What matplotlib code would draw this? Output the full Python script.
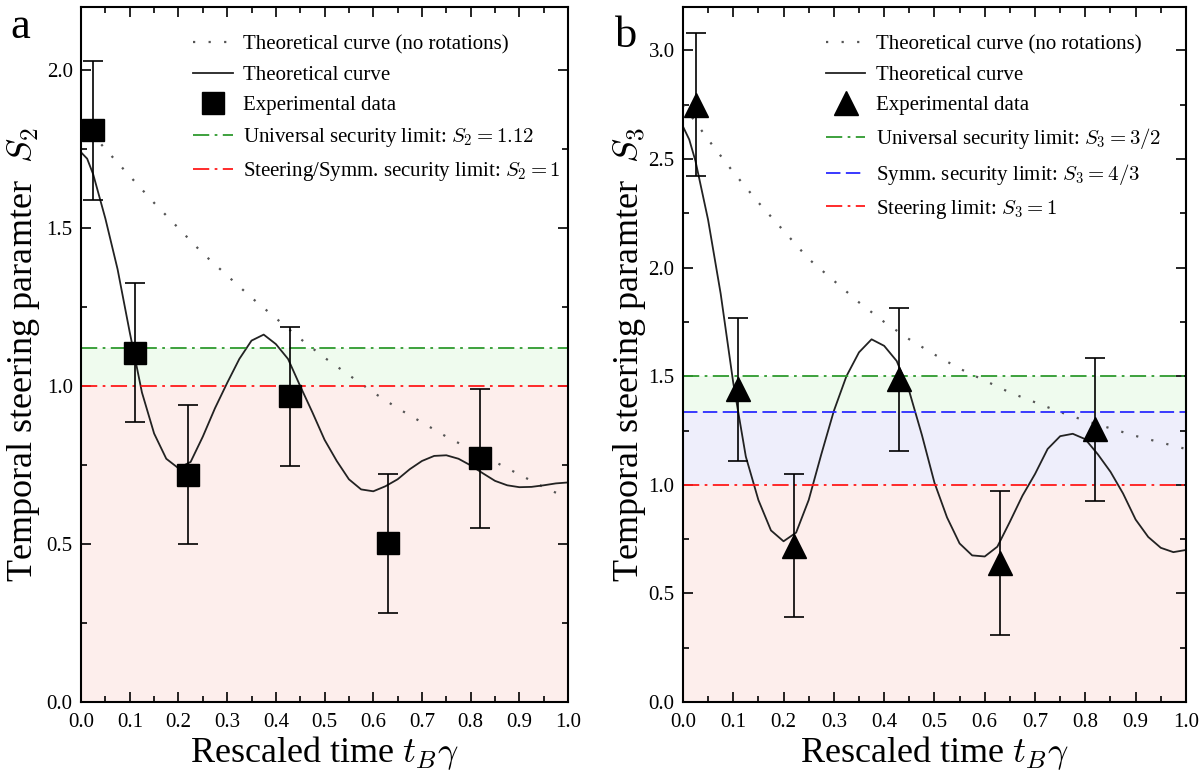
import matplotlib
matplotlib.use('Agg')
import matplotlib.pyplot as plt
from matplotlib.ticker import MultipleLocator

plt.rcParams['font.family'] = ['Liberation Serif', 'DejaVu Serif']
plt.rcParams['mathtext.fontset'] = 'cm'

# experimental points (same time points in both panels)
t_exp = [0.025, 0.11, 0.22, 0.43, 0.63, 0.82]
s2_exp = [1.81, 1.105, 0.72, 0.968, 0.502, 0.771]
s2_err = [0.22, 0.22, 0.22, 0.22, 0.22, 0.22]
s3_exp = [2.75, 1.44, 0.72, 1.485, 0.64, 1.255]
s3_err = [0.33, 0.33, 0.33, 0.33, 0.33, 0.33]

# theoretical curves
t_curve = [0.0, 0.0125, 0.025, 0.05, 0.075, 0.1, 0.125, 0.15, 0.175, 0.2, 0.225, 0.25,
           0.275, 0.3, 0.325, 0.35, 0.375, 0.4, 0.425, 0.45, 0.475, 0.5, 0.525, 0.55,
           0.575, 0.6, 0.625, 0.65, 0.675, 0.7, 0.725, 0.75, 0.775, 0.8, 0.825, 0.85,
           0.875, 0.9, 0.925, 0.95, 0.975, 1.0]
s2_curve = [1.74, 1.72, 1.67, 1.53, 1.37, 1.17, 0.98, 0.85, 0.77, 0.74, 0.76, 0.84,
            0.93, 1.01, 1.086, 1.144, 1.163, 1.133, 1.086, 1.0, 0.917, 0.83, 0.763, 0.705,
            0.673, 0.667, 0.683, 0.705, 0.737, 0.763, 0.779, 0.781, 0.77, 0.749, 0.724, 0.70,
            0.686, 0.68, 0.681, 0.686, 0.692, 0.695]
s3_curve = [2.65, 2.59, 2.49, 2.22, 1.88, 1.47, 1.13, 0.93, 0.79, 0.74, 0.78, 0.93,
            1.14, 1.34, 1.50, 1.61, 1.67, 1.64, 1.57, 1.43, 1.23, 1.01, 0.85, 0.73,
            0.675, 0.67, 0.715, 0.83, 0.95, 1.05, 1.165, 1.224, 1.235, 1.21, 1.14, 1.06,
            0.96, 0.84, 0.76, 0.71, 0.69, 0.70]

t_norot = [0.0, 0.05, 0.1, 0.15, 0.2, 0.25, 0.3, 0.35, 0.4, 0.45, 0.5, 0.55,
           0.6, 0.65, 0.7, 0.75, 0.8, 0.85, 0.9, 0.95, 1.0]
s2_norot = [1.84, 1.75, 1.665, 1.58, 1.50, 1.42, 1.35, 1.28, 1.215, 1.15, 1.09, 1.035,
            0.98, 0.93, 0.885, 0.84, 0.80, 0.76, 0.72, 0.68, 0.645]
s3_norot = [2.75, 2.59, 2.44, 2.30, 2.17, 2.04, 1.94, 1.84, 1.75, 1.67, 1.60, 1.535,
            1.48, 1.425, 1.38, 1.335, 1.295, 1.26, 1.225, 1.195, 1.165]

# limits
s2_univ = 1.12
s3_univ = 1.5
s3_symm = 4 / 3
steer = 1.0

c_green = '#2e9a2e'
c_red = '#ff1a1a'
c_blue = '#2a2aff'
f_green = '#effbee'
f_red = '#fdeeec'
f_blue = '#eeeefb'

fig = plt.figure(figsize=(11.99, 7.8), dpi=100)
ax1 = fig.add_axes([0.0676, 0.1, 0.4062, 0.891])
ax2 = fig.add_axes([0.5696, 0.1, 0.4195, 0.891])


def style_axis(ax, ymax):
    ax.set_xlim(0, 1)
    ax.set_ylim(0, ymax)
    ax.xaxis.set_major_locator(MultipleLocator(0.1))
    ax.xaxis.set_minor_locator(MultipleLocator(0.05))
    ax.yaxis.set_major_locator(MultipleLocator(0.5))
    ax.yaxis.set_minor_locator(MultipleLocator(0.25))
    ax.tick_params(which='both', direction='in', top=True, right=True, width=1.2)
    ax.tick_params(which='major', length=7, labelsize=15)
    ax.tick_params(which='minor', length=4)
    ax.tick_params(axis='x', pad=8)
    ax.tick_params(axis='y', pad=6)
    for sp in ax.spines.values():
        sp.set_linewidth(1.5)
    ax.set_xlabel(r'Rescaled time $t_B\gamma$', fontsize=26)
    ax.xaxis.set_label_coords(0.5, -0.046)


dashdot = (0, (9, 3, 1.5, 3))
leg_kw = dict(loc='upper left', frameon=False, fontsize=15, borderpad=0, borderaxespad=0,
              handlelength=1.9, handletextpad=0.5, labelspacing=0.52)

# ---- panel a ----
ax1.axhspan(0, steer, color=f_red, lw=0, zorder=0)
ax1.axhspan(steer, s2_univ, color=f_green, lw=0, zorder=0)
ax1.plot(t_norot, s2_norot, color='#555555', lw=1.6, linestyle=(0, (1, 6)),
         label='Theoretical curve (no rotations)')
ax1.plot(t_curve, s2_curve, color='#222222', lw=1.3, label='Theoretical curve')
ax1.errorbar(t_exp, s2_exp, yerr=s2_err, fmt='none', ecolor='black', elinewidth=1.2,
             capsize=7.2, capthick=1.2, zorder=4)
ax1.plot(t_exp, s2_exp, 's', color='black', ms=16, lw=0, zorder=5, label='Experimental data')
ax1.axhline(s2_univ, color=c_green, lw=1.3, linestyle=dashdot,
            label=r'Universal security limit: $S_2 = 1.12$')
ax1.axhline(steer, color=c_red, lw=1.3, linestyle=dashdot,
            label=r'Steering/Symm. security limit: $S_2 = 1$')
style_axis(ax1, 2.2)
ax1.set_ylabel(r'Temporal steering paramter  $S_2$', fontsize=26)
ax1.yaxis.set_label_coords(-0.08, 0.5)
ax1.legend(bbox_to_anchor=(0.23, 0.96), **leg_kw)

# ---- panel b ----
ax2.axhspan(0, steer, color=f_red, lw=0, zorder=0)
ax2.axhspan(steer, s3_symm, color=f_blue, lw=0, zorder=0)
ax2.axhspan(s3_symm, s3_univ, color=f_green, lw=0, zorder=0)
ax2.plot(t_norot, s3_norot, color='#555555', lw=1.6, linestyle=(0, (1, 6)),
         label='Theoretical curve (no rotations)')
ax2.plot(t_curve, s3_curve, color='#222222', lw=1.3, label='Theoretical curve')
ax2.errorbar(t_exp, s3_exp, yerr=s3_err, fmt='none', ecolor='black', elinewidth=1.2,
             capsize=7.2, capthick=1.2, zorder=4)
ax2.plot(t_exp, s3_exp, '^', color='black', ms=17, lw=0, zorder=5, label='Experimental data')
ax2.axhline(s3_univ, color=c_green, lw=1.3, linestyle=dashdot,
            label=r'Universal security limit: $S_3 = 3/2$')
ax2.axhline(s3_symm, color=c_blue, lw=1.3, linestyle=(0, (8, 3)),
            label=r'Symm. security limit: $S_3 = 4/3$')
ax2.axhline(steer, color=c_red, lw=1.3, linestyle=dashdot,
            label=r'Steering limit: $S_3 = 1$')
style_axis(ax2, 3.2)
ax2.set_ylabel(r'Temporal steering paramter  $S_3$', fontsize=26)
ax2.yaxis.set_label_coords(-0.07, 0.5)
ax2.legend(bbox_to_anchor=(0.284, 0.96), **leg_kw)

fig.text(0.009, 0.951, 'a', fontsize=32, va='baseline')
fig.text(0.513, 0.94, 'b', fontsize=32, va='baseline')

fig.savefig('out.png', dpi=100)
